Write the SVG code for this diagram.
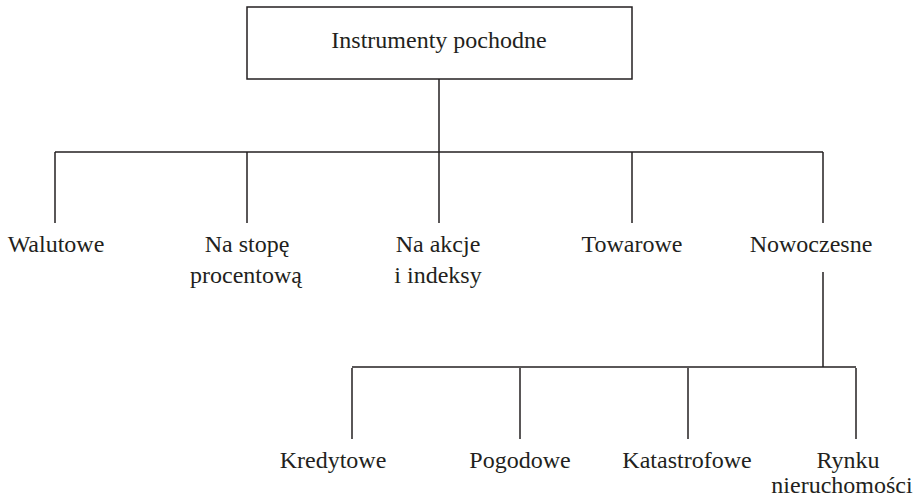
<svg xmlns="http://www.w3.org/2000/svg" width="923" height="498" viewBox="0 0 923 498">
<defs>
<line id="drop" x1="0" y1="0" x2="0" y2="71"/>
</defs>
<rect width="923" height="498" fill="#ffffff"/>
<g id="connectors" stroke="#231f20" stroke-width="1.5" fill="none">
<line x1="439" y1="79" x2="439" y2="152"/>
<line x1="55" y1="152" x2="823" y2="152"/>
<use href="#drop" x="55" y="152"/>
<use href="#drop" x="247" y="152"/>
<use href="#drop" x="439" y="152"/>
<use href="#drop" x="632" y="152"/>
<use href="#drop" x="823" y="152"/>
<line x1="823" y1="272" x2="823" y2="367"/>
<line x1="352" y1="367" x2="856" y2="367"/>
<use href="#drop" x="352" y="368"/>
<use href="#drop" x="520" y="368"/>
<use href="#drop" x="688" y="368"/>
<use href="#drop" x="856" y="368"/>
</g>
<g fill="#231f20" text-anchor="middle">
<g id="root">
<rect x="247" y="7" width="385" height="72" fill="none" stroke="#231f20" stroke-width="1.5"/>
<text x="439" y="48" font-family="Liberation Serif" font-size="24">Instrumenty pochodne</text>
</g>
<g id="walutowe"><text x="56" y="252" font-family="Liberation Serif" font-size="24">Walutowe</text></g>
<g id="stopa"><text x="247" y="252" font-family="Liberation Serif" font-size="24">Na stopę</text><text x="246" y="283" font-family="Liberation Serif" font-size="24">procentową</text></g>
<g id="akcje"><text x="438" y="252" font-family="Liberation Serif" font-size="24">Na akcje</text><text x="438" y="283" font-family="Liberation Serif" font-size="24">i indeksy</text></g>
<g id="towarowe"><text x="632" y="252" font-family="Liberation Serif" font-size="24">Towarowe</text></g>
<g id="nowoczesne"><text x="811" y="252" font-family="Liberation Serif" font-size="24">Nowoczesne</text></g>
<g id="kredytowe"><text x="333" y="468" font-family="Liberation Serif" font-size="24">Kredytowe</text></g>
<g id="pogodowe"><text x="520" y="468" font-family="Liberation Serif" font-size="24">Pogodowe</text></g>
<g id="katastrofowe"><text x="687" y="468" font-family="Liberation Serif" font-size="24">Katastrofowe</text></g>
<g id="nieruchomosci"><text x="848" y="468" font-family="Liberation Serif" font-size="24">Rynku</text><text x="842" y="493" font-family="Liberation Serif" font-size="24">nieruchomości</text></g>
</g>
</svg>
